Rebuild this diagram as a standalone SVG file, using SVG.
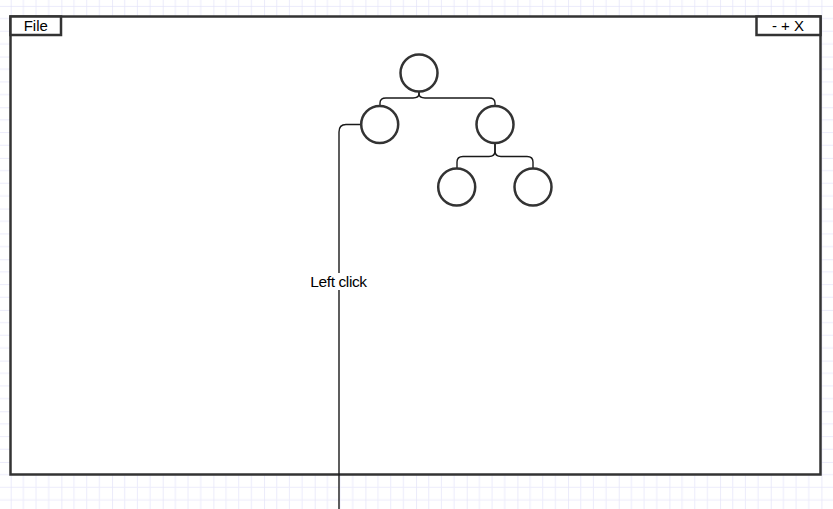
<svg xmlns="http://www.w3.org/2000/svg" width="833" height="509" viewBox="0 0 833 509">
<style>
.frame{fill:#ffffff;stroke:#333333;stroke-width:2.5}
.node{fill:#ffffff;stroke:#333333;stroke-width:2.5}
.edge{fill:none;stroke:#1a1a1a;stroke-width:1.4}
.lbl{font-family:"Liberation Sans",Arial,sans-serif;fill:#000000;text-anchor:middle}
</style>
<defs>
<pattern id="grid" patternUnits="userSpaceOnUse" x="10.7" y="5.9" width="50.67" height="50.67">
<path d="M0,0V50.67M12.67,0V50.67M25.33,0V50.67M38,0V50.67M0,0H50.67M0,12.67H50.67M0,25.33H50.67M0,38H50.67" stroke="#ececfb" stroke-width="1" fill="none"/>
<path d="M0,0V50.67M0,0H50.67" stroke="#e0e0f6" stroke-width="1" fill="none"/>
</pattern>
</defs>
<rect x="0" y="0" width="833" height="509" fill="#ffffff"/>
<rect x="0" y="0" width="833" height="509" fill="url(#grid)"/>
<g id="window">
<rect class="frame" x="10.5" y="16.5" width="810" height="458"/>
</g>
<g id="file-menu">
<rect class="frame" x="10.5" y="16.5" width="50.5" height="18.5"/>
<text class="lbl" x="35.8" y="31" font-size="15">File</text>
</g>
<g id="window-controls">
<rect class="frame" x="756.5" y="16.5" width="64" height="18.5"/>
<text class="lbl" x="788" y="31" font-size="15">- + X</text>
</g>
<g id="connectors">
<path class="edge" d="M419,92 L419,93.5 Q419,98 413,98 L386,98 Q380,98 380,103 L380,105"/>
<path class="edge" d="M419,92 L419,93.5 Q419,98 425,98 L489,98 Q495,98 495,103 L495,105"/>
<path class="edge" d="M495,144 L495,151 Q495,156.5 489,156.5 L463,156.5 Q457,156.5 457,162 L457,168"/>
<path class="edge" d="M495,144 L495,151 Q495,156.5 501,156.5 L527,156.5 Q533,156.5 533,162 L533,168"/>
<path class="edge" d="M360.5,124.5 L346,124.5 Q339,124.5 339,132 L339,509"/>
<rect x="308" y="273" width="62" height="17" fill="#ffffff"/>
<text class="lbl" x="338.5" y="287" font-size="15.5" letter-spacing="-0.4">Left click</text>
</g>
<g id="root"><circle class="node" cx="419" cy="73" r="18.5"/></g>
<g id="left-child"><circle class="node" cx="379.7" cy="124.5" r="18.5"/></g>
<g id="right-child"><circle class="node" cx="495" cy="124.5" r="18.5"/></g>
<g id="grandchild-left"><circle class="node" cx="456.7" cy="187" r="18.5"/></g>
<g id="grandchild-right"><circle class="node" cx="533" cy="187" r="18.5"/></g>
</svg>
